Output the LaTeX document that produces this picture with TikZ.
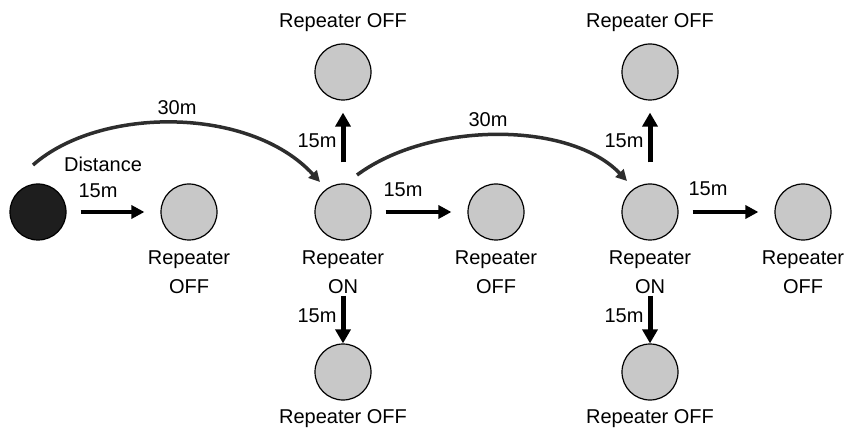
\documentclass[tikz,border=0pt]{standalone}
\usepackage{fontspec}
\setmainfont{Liberation Sans}
\usetikzlibrary{arrows.meta}
\definecolor{rep}{RGB}{200,200,200}
\definecolor{src}{RGB}{30,30,30}
\definecolor{curve}{RGB}{45,45,45}
\begin{document}
\begin{tikzpicture}[x=1pt,y=-1pt,
  every node/.style={font=\fontsize{20}{28}\selectfont},
  rnode/.style={circle,draw=black,line width=1.2pt,fill=rep,minimum size=56pt,inner sep=0pt},
  snode/.style={circle,draw=black,line width=1.2pt,fill=src,minimum size=56pt,inner sep=0pt},
  lbl/.style={anchor=base,inner sep=0pt},
  harrow/.style={line width=4.5pt,-{Triangle[length=13pt,width=13pt]}},
  varrow/.style={line width=5pt,-{Triangle[length=14pt,width=15pt]}},
  carrow/.style={draw=curve,line width=3.5pt,-{Triangle[length=11pt,width=11pt]}}]
\useasboundingbox (0,0) rectangle (848,430);
% circles
\node[snode] (s) at (38,212) {};
\node[rnode] (a) at (189,212) {};
\node[rnode] (b) at (343,212) {};
\node[rnode] (bt) at (343,72) {};
\node[rnode] (bb) at (343,372) {};
\node[rnode] (c) at (496,212) {};
\node[rnode] (d) at (650,212) {};
\node[rnode] (dt) at (650,72) {};
\node[rnode] (db) at (650,372) {};
\node[rnode] (e) at (803,212) {};
% texts
\node[lbl] (ta) at (343,28) {Repeater OFF};
\node[lbl] (tb) at (650,28) {Repeater OFF};
\node[lbl] (la1) at (189,265) {Repeater};
\node[lbl] (la2) at (189,293) {OFF};
\node[lbl] (lb1) at (343,265) {Repeater};
\node[lbl] (lb2) at (343,293) {ON};
\node[lbl] (lc1) at (496,265) {Repeater};
\node[lbl] (lc2) at (496,293) {OFF};
\node[lbl] (ld1) at (650,265) {Repeater};
\node[lbl] (ld2) at (650,293) {ON};
\node[lbl] (le1) at (803,265) {Repeater};
\node[lbl] (le2) at (803,293) {OFF};
\node[lbl] (ba) at (343,423) {Repeater OFF};
\node[lbl] (bbt) at (650,423) {Repeater OFF};
% distance labels
\node[lbl] (dist) at (103,172) {Distance};
\node[lbl] (m30a) at (177,115) {30m};
\node[lbl] (m30b) at (488,127) {30m};
\node[lbl] (m15a) at (98,198) {15m};
\node[lbl] (m15b) at (403,197) {15m};
\node[lbl] (m15c) at (708,196) {15m};
\node[lbl] (m15d) at (317,148) {15m};
\node[lbl] (m15e) at (317,322) {15m};
\node[lbl] (m15f) at (624,148) {15m};
\node[lbl] (m15g) at (624,322) {15m};
% straight arrows
\draw[harrow,shorten <=14pt,shorten >=16pt] (s) -- (a);
\draw[harrow,shorten <=14pt,shorten >=16pt] (b) -- (c);
\draw[harrow,shorten <=14pt,shorten >=16pt] (d) -- (e);
\draw[varrow,shorten <=21pt,shorten >=12pt] (b) -- (bt);
\draw[varrow,shorten <=21pt,shorten >=12pt] (d) -- (dt);
\draw[varrow,shorten <=55pt,shorten >=0pt] (b) -- (bb);
\draw[varrow,shorten <=55pt,shorten >=0pt] (d) -- (db);
% curved arrows
\coordinate (c1s) at (33,165);
\coordinate (c1e) at (320,182);
\coordinate (c2s) at (357,175);
\coordinate (c2e) at (627,181);
\draw[carrow] (c1s) .. controls (100,106) and (250,106) .. (c1e);
\draw[carrow] (c2s) .. controls (430,121) and (570,121) .. (c2e);
\end{tikzpicture}
\end{document}
